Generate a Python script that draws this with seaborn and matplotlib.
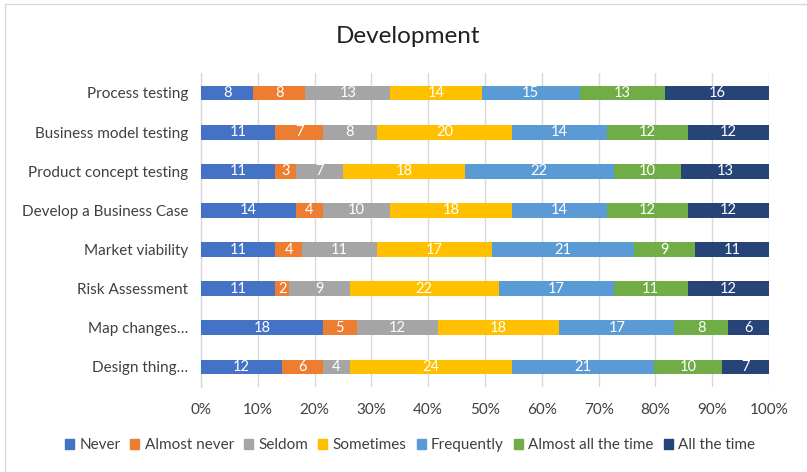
import numpy as np
import pandas as pd
import matplotlib
matplotlib.use("Agg")
import matplotlib.pyplot as plt
from matplotlib.patches import Rectangle
import seaborn as sns

categories = [
    "Process testing",
    "Business model testing",
    "Product concept testing",
    "Develop a Business Case",
    "Market viability",
    "Risk Assessment",
    "Map changes…",
    "Design thing…",
]
responses = ["Never", "Almost never", "Seldom", "Sometimes",
             "Frequently", "Almost all the time", "All the time"]
never = [8, 11, 11, 14, 11, 11, 18, 12]
almost_never = [8, 7, 3, 4, 4, 2, 5, 6]
seldom = [13, 8, 7, 10, 11, 9, 12, 4]
sometimes = [14, 20, 18, 18, 17, 22, 18, 24]
frequently = [15, 14, 22, 14, 21, 17, 17, 21]
almost_all = [13, 12, 10, 12, 9, 11, 8, 10]
all_time = [16, 12, 13, 12, 11, 12, 6, 7]
colors = ["#4472C4", "#ED7D31", "#A5A5A5", "#FFC000",
          "#5B9BD5", "#70AD47", "#264478"]
tick_labels = ["0%", "10%", "20%", "30%", "40%", "50%", "60%", "70%", "80%", "90%", "100%"]

sns.set_theme(style="white")
plt.rcParams["font.family"] = ["Lato", "DejaVu Sans"]

counts = pd.DataFrame(
    np.array([never, almost_never, seldom, sometimes, frequently, almost_all, all_time]).T,
    index=categories, columns=responses)
pct = counts.div(counts.sum(axis=1), axis=0) * 100
cum = pct.cumsum(axis=1)
start = cum - pct

fig = plt.figure(figsize=(8.07, 4.72), dpi=100)
ax = fig.add_axes([0.249, 0.181, 0.704, 0.6635])

# Stacked bars: draw cumulative totals from the last series backward
for resp, col in reversed(list(zip(responses, colors))):
    df = pd.DataFrame({"category": categories, "value": cum[resp].values})
    sns.barplot(data=df, x="value", y="category", color=col, width=0.38,
                saturation=1, ax=ax, orient="h", zorder=3, edgecolor="none")

# Count labels centred on each segment
for i, cat in enumerate(categories):
    for resp in responses:
        xc = start.loc[cat, resp] + pct.loc[cat, resp] / 2
        ax.text(xc, i, str(counts.loc[cat, resp]), ha="center", va="center",
                color="white", fontsize=10.5, zorder=4)

handles = [Rectangle((0, 0), 1, 1, color=c) for c in colors]

ax.set_xlim(0, 100)
ax.set_ylim(7.5, -0.5)
ax.set_xticks(np.arange(0, 101, 10))
ax.set_xticklabels(tick_labels, fontsize=11, color="#404040")
ax.tick_params(axis="y", labelsize=11, labelcolor="#404040", length=0, pad=9)
ax.tick_params(axis="x", length=0, pad=12)
ax.set_xlabel("")
ax.set_ylabel("")
ax.grid(axis="x", color="#D9D9D9", linewidth=1, zorder=0)
ax.set_axisbelow(True)
for s in ["top", "right", "bottom"]:
    ax.spines[s].set_visible(False)
ax.spines["left"].set_color("#D9D9D9")
ax.spines["left"].set_linewidth(1)

fig.text(0.505, 0.923, "Development", ha="center", va="center",
         fontsize=17.5, color="#202020")

fig.legend(handles, responses, loc="center", bbox_to_anchor=(0.508, 0.057),
           ncol=7, frameon=False, fontsize=11, handlelength=0.6, handleheight=0.6,
           handletextpad=0.35, columnspacing=0.65, labelcolor="#404040")

# Light chart-area frame
fig.patches.append(Rectangle((5 / 807, -0.01), 1.0, 1 - 4 / 472 + 0.01,
                             transform=fig.transFigure, fill=False,
                             edgecolor="#D9D9D9", linewidth=1))

fig.savefig("out.png", dpi=100)
